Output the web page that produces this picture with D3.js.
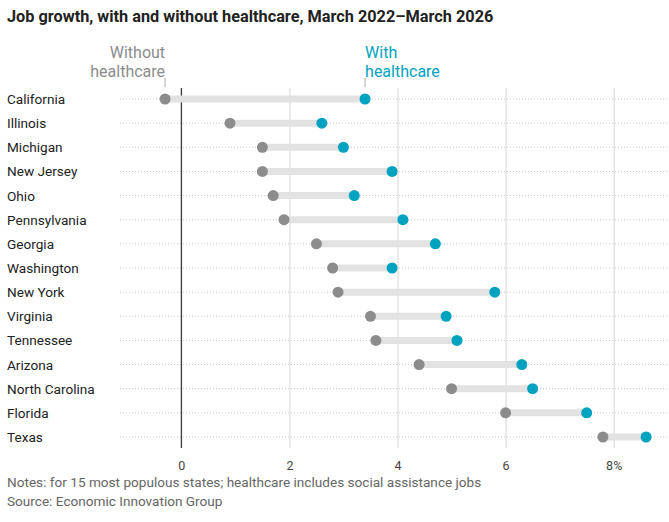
<!DOCTYPE html>
<html>
<head>
<meta charset="utf-8">
<script src="https://cdn.jsdelivr.net/npm/d3@7"></script>
<style>
  body { margin: 0; background: #fff; }
  svg text { font-family: Roboto, "Noto Sans", sans-serif; }
</style>
</head>
<body>
<div class="chart"></div>
<script>
var states = ["California", "Illinois", "Michigan", "New Jersey", "Ohio", "Pennsylvania", "Georgia",
              "Washington", "New York", "Virginia", "Tennessee", "Arizona", "North Carolina", "Florida", "Texas"];
var withoutHealthcare = [-0.3, 0.9, 1.5, 1.5, 1.7, 1.9, 2.5, 2.8, 2.9, 3.5, 3.6, 4.4, 5.0, 6.0, 7.8];
var withHealthcare = [3.4, 2.6, 3.0, 3.9, 3.2, 4.1, 4.7, 3.9, 5.8, 4.9, 5.1, 6.3, 6.5, 7.5, 8.6];
var ticks = [0, 2, 4, 6, 8];

var w = 669, h = 522;
var grey = "#8c8c8c", teal = "#00a3bf";

var svg = d3.select(".chart").append("svg")
    .attr("width", w)
    .attr("height", h);

var xScale = d3.scaleLinear().domain([0, 8]).range([181.3, 613.7]);
var yScale = d3.scalePoint().domain(states).range([99, 437]);

var data = states.map(function(s, i) {
  return { state: s, without: withoutHealthcare[i], with: withHealthcare[i] };
});

// title
svg.append("text")
  .attr("x", 7).attr("y", 22)
  .attr("font-size", 16.3).attr("font-weight", "bold")
  .attr("fill", "#222")
  .text("Job growth, with and without healthcare, March 2022\u2013March 2026");

// vertical grid
var xAxis = d3.axisBottom(xScale)
  .tickValues(ticks)
  .tickSize(-(448 - 88))
  .tickFormat(function(d) { return d == 8 ? "8%" : d; });

svg.append("g")
  .attr("class", "xAxis")
  .attr("transform", "translate(0,448)")
  .call(xAxis)
  .call(function(g) {
    g.select(".domain").remove();
    g.selectAll("line").attr("stroke", "#dcdcdc").attr("stroke-width", 1.2);
    g.selectAll("text")
      .attr("y", 13)
      .attr("fill", "#444")
      .attr("font-size", 12.5)
      .attr("font-family", "Roboto, sans-serif");
  });

// dotted row lines
svg.selectAll(".row-line")
  .data(data)
  .enter().append("line")
  .attr("class", "row-line")
  .attr("x1", 120).attr("x2", w)
  .attr("y1", d => yScale(d.state)).attr("y2", d => yScale(d.state))
  .attr("stroke", "#c8c8c8")
  .attr("stroke-width", 1)
  .attr("stroke-dasharray", "1,2");

// zero line above row lines
svg.append("line")
  .attr("x1", xScale(0)).attr("x2", xScale(0))
  .attr("y1", 88).attr("y2", 448)
  .attr("stroke", "#111").attr("stroke-width", 1);

// state labels
svg.selectAll(".state")
  .data(data)
  .enter().append("text")
  .attr("class", "state")
  .attr("x", 7)
  .attr("y", d => yScale(d.state) + 5)
  .attr("font-size", 13.6)
  .attr("fill", "#222")
  .text(d => d.state);

// bars
svg.selectAll(".bar")
  .data(data)
  .enter().append("line")
  .attr("class", "bar")
  .attr("x1", d => xScale(d.without)).attr("x2", d => xScale(d.with))
  .attr("y1", d => yScale(d.state)).attr("y2", d => yScale(d.state))
  .attr("stroke", "#e2e2e2")
  .attr("stroke-width", 7);

svg.selectAll(".dot-without")
  .data(data)
  .enter().append("circle")
  .attr("cx", d => xScale(d.without))
  .attr("cy", d => yScale(d.state))
  .attr("r", 5.5)
  .attr("fill", grey);

svg.selectAll(".dot-with")
  .data(data)
  .enter().append("circle")
  .attr("cx", d => xScale(d.with))
  .attr("cy", d => yScale(d.state))
  .attr("r", 5.5)
  .attr("fill", teal);

// legend labels on first row
var first = data[0];
var wx = xScale(first.without), hx = xScale(first.with);
svg.append("line").attr("x1", wx).attr("x2", wx).attr("y1", 78).attr("y2", 87)
  .attr("stroke", "#aaa").attr("stroke-width", 1);
svg.append("line").attr("x1", hx).attr("x2", hx).attr("y1", 78).attr("y2", 87)
  .attr("stroke", "#aaa").attr("stroke-width", 1);

var lw = svg.append("text").attr("text-anchor", "end").attr("font-size", 16).attr("fill", grey);
lw.append("tspan").attr("x", wx).attr("y", 58).text("Without");
lw.append("tspan").attr("x", wx).attr("y", 77).text("healthcare");

var lh = svg.append("text").attr("text-anchor", "start").attr("font-size", 16).attr("fill", teal);
lh.append("tspan").attr("x", hx).attr("y", 58).text("With");
lh.append("tspan").attr("x", hx).attr("y", 77).text("healthcare");

// notes
svg.append("text")
  .attr("x", 7).attr("y", 487)
  .attr("font-size", 13.6).attr("fill", "#666")
  .text("Notes: for 15 most populous states; healthcare includes social assistance jobs");
svg.append("text")
  .attr("x", 7).attr("y", 506)
  .attr("font-size", 13.6).attr("fill", "#666")
  .text("Source: Economic Innovation Group");
</script>
</body>
</html>
